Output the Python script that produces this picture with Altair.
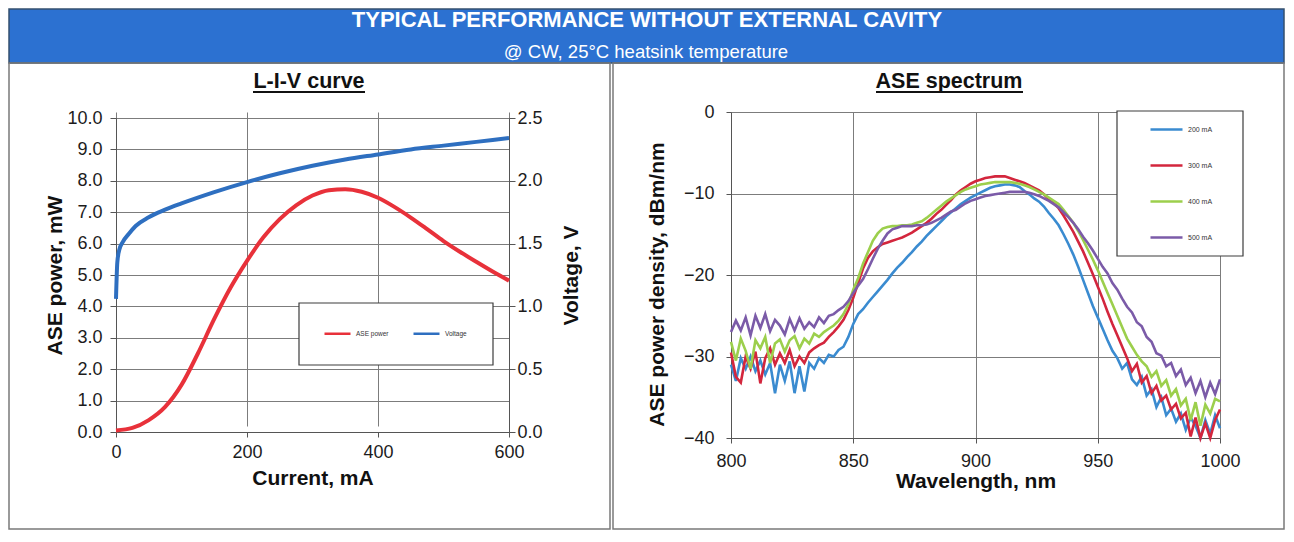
import altair as alt
import pandas as pd

# ---------------- L-I-V curve data ----------------
current_ma = [0, 25, 50, 75, 100, 125, 150, 175, 200, 225, 250, 275, 300,
              325, 350, 375, 400, 425, 450, 475, 500, 525, 550, 575, 600]
ase_power_mw = [0.05, 0.13, 0.38, 0.8, 1.5, 2.5, 3.6, 4.6, 5.45, 6.2, 6.78, 7.22,
                7.53, 7.7, 7.73, 7.65, 7.46, 7.17, 6.83, 6.46, 6.08, 5.74, 5.42, 5.11, 4.82]
volt_current_ma = [0, 2, 5, 10, 20, 30, 50, 75, 100, 150, 200, 250, 300,
                   350, 400, 450, 500, 550, 600]
voltage_v = [1.06, 1.35, 1.45, 1.51, 1.58, 1.64, 1.71, 1.77, 1.82, 1.91, 1.99, 2.06,
             2.12, 2.17, 2.21, 2.25, 2.28, 2.31, 2.34]
liv_series = ["ASE power", "Voltage"]
liv_colors = ["#e8313a", "#2e6fc0"]

# ---------------- ASE spectrum data ----------------
wavelength_nm = list(range(800, 1001, 2))
spec_200ma = [
    -31.0, -33.0, -30.2, -31.5, -30.0, -31.8, -30.5, -32.2, -30.8, -34.5,
    -31.0, -33.0, -30.6, -34.5, -31.2, -34.3, -30.8, -31.5, -30.2, -30.8,
    -29.8, -30.0, -29.2, -28.8, -27.6, -26.0, -24.8, -24.2, -23.4, -22.7,
    -22.0, -21.3, -20.6, -19.8, -19.1, -18.5, -17.8, -17.2, -16.5, -15.9,
    -15.2, -14.6, -14.0, -13.4, -12.8, -12.3, -11.8, -11.3, -10.9, -10.5,
    -10.2, -9.9, -9.6, -9.3, -9.1, -9.0, -8.9, -8.9, -9.0, -9.2,
    -9.7, -10.1, -10.6, -11.0, -11.6, -12.4, -13.1, -13.9, -15.0, -16.2,
    -17.5, -19.0, -20.6, -22.2, -23.8, -25.2, -26.6, -28.0, -29.3, -30.2,
    -31.5, -30.8, -32.8, -33.5, -32.5, -34.8, -34.0, -36.2, -35.0, -37.2,
    -36.4, -38.0, -37.0, -39.0, -37.5, -38.5, -40.0, -37.8, -39.5, -37.2,
    -38.8]
spec_300ma = [
    -29.5, -32.5, -33.2, -30.0, -31.5, -29.4, -33.3, -30.2, -29.0, -31.0,
    -29.6, -30.8, -29.2, -31.2, -30.0, -30.8, -29.5, -29.0, -28.6, -28.3,
    -27.6, -27.0, -26.3, -25.5, -24.3, -22.8, -21.0, -19.2, -17.9, -17.1,
    -16.6, -16.2, -16.0, -15.8, -15.6, -15.4, -15.1, -14.8, -14.4, -14.0,
    -13.6, -13.1, -12.5, -12.0, -11.4, -10.8, -10.1, -9.6, -9.2, -8.8,
    -8.5, -8.3, -8.1, -8.0, -7.9, -7.9, -7.9, -8.1, -8.3, -8.5,
    -8.7, -9.0, -9.3, -9.6, -10.1, -10.7, -11.2, -11.8, -12.7, -13.7,
    -14.7, -15.9, -17.1, -18.5, -19.9, -21.4, -22.9, -24.5, -26.0, -27.4,
    -28.8, -30.2, -31.8, -30.9, -33.2, -32.4, -34.5, -33.6, -35.4, -34.8,
    -36.5, -35.8, -37.6, -36.9, -39.8, -37.5, -40.0, -38.2, -40.0, -37.8,
    -36.5]
spec_400ma = [
    -28.2, -30.5, -27.8, -29.3, -31.5, -28.0, -29.0, -27.6, -30.8, -28.4,
    -27.9, -29.4, -28.0, -27.5, -29.0, -27.8, -28.4, -27.2, -27.6, -27.0,
    -26.6, -26.2, -25.6, -24.8, -23.6, -21.8, -20.4, -18.6, -17.2, -15.8,
    -14.9, -14.3, -14.1, -14.0, -14.0, -13.9, -13.9, -13.8, -13.6, -13.4,
    -13.0, -12.5, -12.0, -11.5, -11.0, -10.6, -10.2, -9.8, -9.5, -9.3,
    -9.1, -8.9, -8.8, -8.7, -8.6, -8.6, -8.6, -8.6, -8.7, -8.8,
    -9.0, -9.2, -9.5, -9.8, -10.1, -10.5, -10.9, -11.3, -12.0, -12.8,
    -13.6, -14.6, -15.7, -16.9, -18.1, -19.4, -20.8, -22.2, -23.6, -25.0,
    -26.4, -27.8, -28.8, -29.8, -30.6, -31.2, -32.5, -31.8, -33.6, -32.9,
    -34.8, -34.0, -36.0, -35.2, -37.8, -35.6, -38.5, -35.9, -37.0, -35.2,
    -35.5]
spec_500ma = [
    -27.0, -25.6, -26.8, -25.2, -27.4, -25.0, -26.5, -24.8, -26.9, -25.5,
    -26.2, -27.3, -25.4, -26.8, -25.3, -26.6, -25.8, -26.4, -25.2, -25.9,
    -25.0, -24.8, -24.3, -23.9, -23.2, -22.2, -21.3, -20.5, -19.3, -18.0,
    -16.8, -15.8, -14.9, -14.4, -14.2, -14.0, -14.0, -14.0, -13.9, -13.9,
    -13.8, -13.6, -13.3, -13.0, -12.6, -12.2, -12.0, -11.6, -11.2, -10.9,
    -10.7, -10.5, -10.3, -10.2, -10.1, -10.0, -9.9, -9.8, -9.8, -9.8,
    -9.8, -9.9, -10.1, -10.3, -10.6, -10.9, -11.3, -11.7, -12.3, -12.9,
    -13.6, -14.4, -15.3, -16.1, -17.0, -18.0, -19.0, -19.8, -21.0, -21.8,
    -22.9, -23.9, -24.6, -25.8, -26.3, -27.6, -28.2, -29.6, -29.9, -31.2,
    -30.8, -32.4, -31.6, -33.5, -32.6, -34.5, -33.0, -35.0, -33.2, -34.6,
    -32.8]
spec_series = ["200 mA", "300 mA", "400 mA", "500 mA"]
spec_colors = ["#3a8bd0", "#d3263d", "#9ccf4c", "#7b5ba8"]

header_title = "TYPICAL PERFORMANCE WITHOUT EXTERNAL CAVITY"
header_subtitle = "@ CW, 25°C heatsink temperature"

FONT = "Liberation Sans"
one = pd.DataFrame({"k": [0]})

# Layout (pixels, relative to the L-I-V plot origin / spectrum plot origin)
LW, LH = 393, 320        # L-I-V view (y range 6..320 inside)
RW, RH = 489, 326        # spectrum view
GAP = 222                # gap between the two plot areas
BORDER_TOP, BORDER_BOTTOM = -49, 417

# ---------------- header banner ----------------
banner = alt.Chart(one).mark_rect(fill="#2c71d1", stroke="#34506f", strokeWidth=1.5).encode(
    x=alt.value(-107), x2=alt.value(1168), y=alt.value(0), y2=alt.value(54))
h_title = alt.Chart(pd.DataFrame({"t": [header_title]})).mark_text(
    font=FONT, fontSize=22, fontWeight="bold", color="white", align="center", baseline="alphabetic"
).encode(x=alt.value(531), y=alt.value(18), text="t:N")
h_sub = alt.Chart(pd.DataFrame({"t": [header_subtitle]})).mark_text(
    font=FONT, fontSize=18.5, color="white", align="center", baseline="alphabetic"
).encode(x=alt.value(530), y=alt.value(48.5), text="t:N")
header = alt.layer(banner, h_title, h_sub).properties(width=1, height=54)

# ---------------- L-I-V panel ----------------
df_power = pd.DataFrame({"current": current_ma, "value": ase_power_mw, "series": liv_series[0]})
df_volt = pd.DataFrame({"current": volt_current_ma, "value": voltage_v, "series": liv_series[1]})

x_cur = alt.X("current:Q", scale=alt.Scale(domain=[0, 600], nice=False),
              axis=alt.Axis(values=[0, 200, 400, 600], title="Current, mA", labelPadding=6,
                            titlePadding=6, tickSize=5, labelFlush=False))
liv_color = alt.Color("series:N", scale=alt.Scale(domain=liv_series, range=liv_colors),
                      legend=alt.Legend(orient="none", legendX=207, legendY=207, direction="horizontal",
                                        title=None, symbolType="stroke", symbolSize=676,
                                        symbolStrokeWidth=2.5, labelFontSize=6.5, labelFont=FONT,
                                        labelColor="#333", columnPadding=19, padding=0))

l_border = alt.Chart(one).mark_rect(filled=False, stroke="#7a7a7a", strokeWidth=1.5).encode(
    x=alt.value(-107), x2=alt.value(494), y=alt.value(BORDER_TOP), y2=alt.value(BORDER_BOTTOM))
l_legbox = alt.Chart(one).mark_rect(fill="white", stroke="#3c3c3c", strokeWidth=1.2).encode(
    x=alt.value(183), x2=alt.value(377), y=alt.value(191), y2=alt.value(253))
l_title = alt.Chart(pd.DataFrame({"t": ["L-I-V curve"]})).mark_text(
    font=FONT, fontSize=21.5, fontWeight="bold", color="#111", align="center", baseline="alphabetic"
).encode(x=alt.value(193), y=alt.value(-24), text="t:N")
l_under = alt.Chart(one).mark_rule(color="#111", strokeWidth=2).encode(
    x=alt.value(137), x2=alt.value(249), y=alt.value(-20))

power_line = alt.Chart(df_power).mark_line(strokeWidth=4, interpolate="monotone").encode(
    x=x_cur,
    y=alt.Y("value:Q", scale=alt.Scale(domain=[0, 10], range=[LH, 6], nice=False),
            axis=alt.Axis(values=list(range(11)), format=".1f", title="ASE power, mW",
                          tickSize=6, labelPadding=8, titlePadding=1)),
    color=liv_color)
volt_line = alt.Chart(df_volt).mark_line(strokeWidth=4, interpolate="monotone").encode(
    x=x_cur,
    y=alt.Y("value:Q", scale=alt.Scale(domain=[0, 2.5], range=[LH, 6], nice=False),
            axis=alt.Axis(orient="right", values=[0, 0.5, 1.0, 1.5, 2.0, 2.5], format=".1f",
                          title="Voltage, V", grid=False, tickSize=6, labelPadding=2,
                          titleAngle=270, titleBaseline="top", titlePadding=18)),
    color=liv_color)

liv = alt.layer(l_border, l_legbox, l_title, l_under, power_line, volt_line).resolve_scale(
    y="independent").properties(width=LW, height=LH)

# ---------------- ASE spectrum panel ----------------
rows = []
for name, vals in zip(spec_series, [spec_200ma, spec_300ma, spec_400ma, spec_500ma]):
    for w, v in zip(wavelength_nm, vals):
        rows.append({"wavelength": w, "density": v, "current": name})
df_spec = pd.DataFrame(rows)

r_border = alt.Chart(one).mark_rect(filled=False, stroke="#7a7a7a", strokeWidth=1.5).encode(
    x=alt.value(-118), x2=alt.value(RW + 64), y=alt.value(BORDER_TOP), y2=alt.value(BORDER_BOTTOM))
r_legbox = alt.Chart(one).mark_rect(fill="white", stroke="#3c3c3c", strokeWidth=1.2).encode(
    x=alt.value(386), x2=alt.value(512), y=alt.value(-1), y2=alt.value(144))
r_title = alt.Chart(pd.DataFrame({"t": ["ASE spectrum"]})).mark_text(
    font=FONT, fontSize=21.5, fontWeight="bold", color="#111", align="center", baseline="alphabetic"
).encode(x=alt.value(218), y=alt.value(-24), text="t:N")
r_under = alt.Chart(one).mark_rule(color="#111", strokeWidth=2).encode(
    x=alt.value(145), x2=alt.value(292), y=alt.value(-20))

spec_lines = alt.Chart(df_spec).mark_line(strokeWidth=2.6).encode(
    x=alt.X("wavelength:Q", scale=alt.Scale(domain=[800, 1000], nice=False),
            axis=alt.Axis(values=[800, 850, 900, 950, 1000], format="d", title="Wavelength, nm",
                          labelPadding=9, titlePadding=0, tickSize=5, labelFlush=False)),
    y=alt.Y("density:Q", scale=alt.Scale(domain=[-40, 0], nice=False),
            axis=alt.Axis(values=[-40, -30, -20, -10, 0], title="ASE power density, dBm/nm",
                          tickSize=5, labelPadding=12, titlePadding=16, titleY=172)),
    color=alt.Color("current:N", scale=alt.Scale(domain=spec_series, range=spec_colors),
                    legend=alt.Legend(orient="none", legendX=418, legendY=0, direction="vertical",
                                      title=None, symbolType="stroke", symbolSize=1024,
                                      symbolStrokeWidth=2.5, labelFontSize=7, labelFont=FONT,
                                      labelColor="#333", rowPadding=13, padding=0)))

spectrum = alt.layer(r_border, r_legbox, r_title, r_under, spec_lines).properties(width=RW, height=RH)

panels = alt.hconcat(liv, spectrum, spacing=GAP, bounds="flush").resolve_scale(
    color="independent").resolve_legend(color="independent")

chart = alt.vconcat(header, panels, spacing=49, bounds="flush").resolve_scale(
    color="independent").properties(padding=0, background="white"
).configure_view(stroke=None).configure_axis(
    labelFont=FONT, labelFontSize=18, labelColor="#1c1c1c",
    titleFont=FONT, titleFontSize=21, titleFontWeight="bold", titleColor="#111",
    domainColor="#555", tickColor="#555", gridColor="#7c7c7c", gridWidth=1
)

chart.save("out.html", embed_options={"renderer": "svg", "actions": False})
